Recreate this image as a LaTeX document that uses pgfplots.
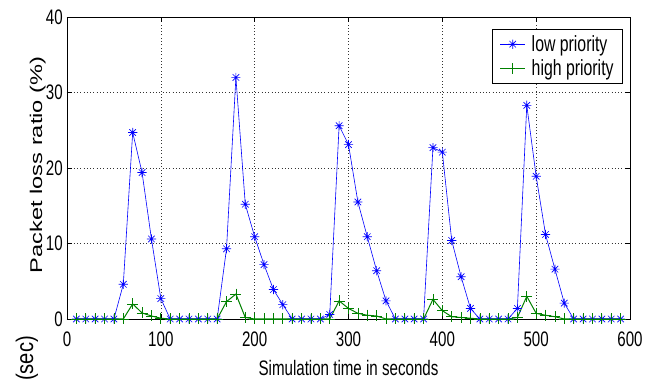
\documentclass[border=0pt]{standalone}
\usepackage{pgfplots}
\pgfplotsset{compat=1.18}
\usepackage{fontspec}
\setmainfont{Liberation Sans}
\newfontfamily\cfont{Liberation Sans}[FakeStretch=0.72]
\newfontfamily\rfont{Liberation Sans}[FakeStretch=1.39]
\newfontfamily\sfont{Liberation Sans}[FakeStretch=0.84]
\definecolor{mblue}{RGB}{0,0,255}
\definecolor{mgreen}{RGB}{0,128,0}
\pgfdeclareplotmark{mstar}{%
  \pgfpathmoveto{\pgfqpoint{-\pgfplotmarksize}{0pt}}\pgfpathlineto{\pgfqpoint{\pgfplotmarksize}{0pt}}%
  \pgfpathmoveto{\pgfqpoint{0pt}{-\pgfplotmarksize}}\pgfpathlineto{\pgfqpoint{0pt}{\pgfplotmarksize}}%
  \pgfpathmoveto{\pgfqpoint{-0.707\pgfplotmarksize}{-0.707\pgfplotmarksize}}\pgfpathlineto{\pgfqpoint{0.707\pgfplotmarksize}{0.707\pgfplotmarksize}}%
  \pgfpathmoveto{\pgfqpoint{-0.707\pgfplotmarksize}{0.707\pgfplotmarksize}}\pgfpathlineto{\pgfqpoint{0.707\pgfplotmarksize}{-0.707\pgfplotmarksize}}%
  \pgfusepathqstroke}
\begin{document}
\begin{tikzpicture}
\useasboundingbox (0,0) rectangle (646pt,383pt);
\clip (0,0) rectangle (646pt,383pt);
\begin{axis}[
  at={(67pt,64pt)}, anchor=south west,
  scale only axis, width=563pt, height=302pt,
  xmin=0, xmax=600, ymin=0, ymax=40,
  xtick={0,100,...,600}, ytick={0,10,...,40},
  grid=major,
  major grid style={black!80, dash pattern=on 0.7pt off 2.6pt, line width=0.5pt},
  axis line style={line width=0.8pt},
  tick style={black, line width=0.5pt},
  major tick length=5pt, tick align=inside, tick pos=both,
  minor tick num=0,
  clip=false,
  /pgf/number format/assume math mode=true,
  tick label style={font=\cfont\fontsize{21}{21}\selectfont},
  xticklabel style={anchor=north, inner sep=0pt, yshift=-13pt},
  yticklabel style={anchor=east, inner sep=0pt, xshift=-4pt},
  xlabel={Simulation time in seconds},
  xlabel style={font=\cfont\fontsize{21}{21}\selectfont, at={(axis description cs:0.5,-0.1887)}, anchor=base},
  ylabel={Packet loss ratio (\%)},
  ylabel style={font=\rfont\fontsize{17}{17}\selectfont, at={(axis description cs:-0.0444,0.51)}, anchor=base},
  legend style={at={(axis description cs:0.9876,0.960)}, anchor=north east, draw=black, line width=0.8pt,
    font=\cfont\fontsize{22}{22}\selectfont, inner xsep=7pt, inner ysep=4pt, row sep=3pt, column sep=4pt,
    nodes={inner sep=2pt}, cells={anchor=west}},
  legend image code/.code={\draw[mark repeat=2,mark phase=2,#1] plot coordinates {(0pt,0pt) (12.5pt,0pt) (25pt,0pt)};},
]
\addplot[color=mblue, line width=0.6pt, mark=mstar, mark size=4.6pt, mark options={line width=0.65pt}] coordinates {
(10,0) (20,0) (30,0) (40,0) (50,0) (60,4.6) (70,24.7) (80,19.4) (90,10.6) (100,2.7)
(110,0) (120,0) (130,0) (140,0) (150,0) (160,0) (170,9.3) (180,32.0) (190,15.2) (200,10.9)
(210,7.2) (220,3.9) (230,1.9) (240,0) (250,0) (260,0) (270,0) (280,0.6) (290,25.6) (300,23.1)
(310,15.5) (320,10.9) (330,6.4) (340,2.4) (350,0) (360,0) (370,0) (380,0) (390,22.7) (400,22.1)
(410,10.4) (420,5.6) (430,1.4) (440,0) (450,0) (460,0) (470,0) (480,1.4) (490,28.3) (500,18.9)
(510,11.2) (520,6.6) (530,2.1) (540,0) (550,0) (560,0) (570,0) (580,0) (590,0)
};
\addlegendentry{low priority}
\addplot[color=mgreen, line width=1pt, mark=+, mark size=5.5pt, mark options={line width=0.7pt}] coordinates {
(10,0) (20,0) (30,0) (40,0) (50,0) (60,0) (70,2.0) (80,0.8) (90,0.4) (100,0.1)
(110,0) (120,0) (130,0) (140,0) (150,0) (160,0) (170,2.3) (180,3.3) (190,0.2) (200,0)
(210,0) (220,0) (230,0) (240,0) (250,0) (260,0) (270,0) (280,0) (290,2.4) (300,1.4)
(310,0.75) (320,0.5) (330,0.4) (340,0) (350,0) (360,0) (370,0) (380,0) (390,2.6) (400,1.1)
(410,0.3) (420,0.2) (430,0.1) (440,0) (450,0) (460,0) (470,0) (480,0.2) (490,3.0) (500,0.75)
(510,0.5) (520,0.3) (530,0) (540,0) (550,0) (560,0) (570,0) (580,0) (590,0)
};
\addlegendentry{high priority}
\end{axis}
\node[rotate=90, anchor=base east, inner sep=0pt, font=\sfont\fontsize{24}{24}\selectfont] at (33pt,47pt) {(sec)};
\end{tikzpicture}
\end{document}
